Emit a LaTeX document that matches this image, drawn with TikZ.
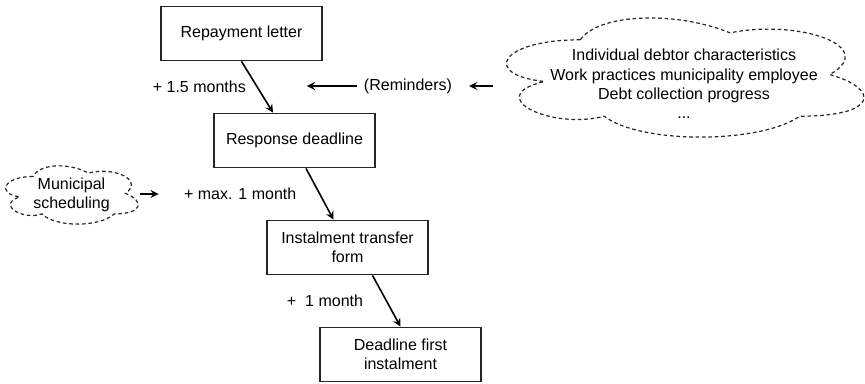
\documentclass[tikz,border=0pt]{standalone}
\usepackage{fontspec}
\setmainfont{Liberation Sans}
\usetikzlibrary{shapes.geometric,arrows}
\tikzstyle{box} = [ rectangle, minimum width = 80.5pt, %
                    minimum height = 27pt, text centered, align = center, %
                    draw = black!85, line width = 0.9pt, fill = white ]
\tikzstyle{cloudtext} = [ align = center, inner sep = 0pt ]
\tikzstyle{cloudline} = [ draw = black!85, line width = 0.6pt, %
                          dash pattern = on 1.8pt off 1.4pt ]
\tikzstyle{arrow} = [thick,->,>=stealth]
% cloud outline round a node: #1 yshift, #2 node, #3 width, #4 height
\newcommand{\cloudround}[4][0pt]{%
  \draw [cloudline, shift={([yshift=#1]#2.center)}, xscale=#3, yscale=#4]
    (-0.26,-0.272) .. controls (-0.46,-0.272) and (-0.51,-0.022) .. (-0.35,0.028)
    .. controls (-0.51,0.138) and (-0.33,0.378) .. (-0.2,0.278)
    .. controls (-0.11,0.478) and (0.19,0.478) .. (0.29,0.278)
    .. controls (0.49,0.278) and (0.49,0.078) .. (0.365,-0.022)
    .. controls (0.49,-0.222) and (0.29,-0.422) .. (0.115,-0.322)
    .. controls (-0.01,-0.472) and (-0.21,-0.472) .. (-0.26,-0.272) -- cycle;}

\begin{document}
\begin{tikzpicture}[x = 0.5pt, y = -0.5pt, node distance = 53.5pt, %
                    font = \fontsize{8}{9.6}\selectfont]
      \useasboundingbox (0,0) rectangle (865,384);
      % Boxes
      \node (letter) [box] at (241.5,33.5) {Repayment letter};
      \node (respdl) [box,below of=letter,xshift=26.5pt] {Response deadline};
      \node (transfer) [box,below of=respdl,xshift=26.5pt] {Instalment transfer\\form};
      \node (firstdl) [box,below of=transfer,xshift=26.5pt] {Deadline first\\instalment};
      % Clouds
      \node (factors) [cloudtext, minimum width=179pt, minimum height=59.5pt] %
        at (684,84) {Individual debtor characteristics\\Work practices municipality employee\\%
         Debt collection progress\\...};
      \node (scheduling) [cloudtext, minimum width=66.5pt, minimum height=29pt] %
        at (71.5,195) {Municipal\\scheduling};
      \cloudround[3.2pt]{factors}{399}{139}
      \cloudround{scheduling}{148}{68}
      \node (reminders) at (408,86) {(Reminders)};
      \coordinate (remtip) at ([xshift=-25pt]reminders.west);
      % Arrows
      \draw [arrow] (letter.south) -- node[anchor=east,xshift=-2pt] {+ 1.5 months} %
        ([xshift=-10.75pt]respdl.north);
      \draw [arrow] ([xshift=5.75pt]respdl.south) -- %
        node[anchor=east,xshift=-8pt] (maxlbl) {+ max. 1 month} ([xshift=-7pt]transfer.north);
      \draw [arrow] ([xshift=12.5pt]transfer.south) -- %
        node[anchor=east,xshift=-8pt] {+\ \ 1 month} (firstdl.north);
      \draw [arrow] (reminders.west) -- (remtip);
      \draw [arrow] ([xshift=-6pt]factors.west |- reminders) -- ([xshift=5pt]reminders.east);
      \draw [arrow] ([xshift=1pt]scheduling.east |- maxlbl) -- ([xshift=-9pt]maxlbl.west);
    \end{tikzpicture}
\end{document}
